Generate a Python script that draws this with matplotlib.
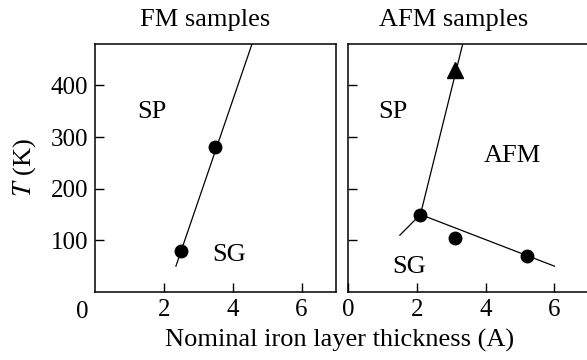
import numpy as np
import matplotlib.pyplot as plt

plt.rcParams['font.family'] = ['Liberation Serif', 'DejaVu Serif']
plt.rcParams['mathtext.fontset'] = 'stix'

# FM samples
fm_x = [2.5, 3.5]
fm_t = [80, 280]
fm_line_x = [2.35, 4.56]
fm_line_t = [50, 480]

# AFM samples
afm_x = [2.1, 3.1, 5.2]
afm_t = [150, 105, 70]
afm_tri_x = [3.1]
afm_tri_t = [430]
afm_line1_x = [1.5, 2.1, 3.33]
afm_line1_t = [110, 150, 480]
afm_line2_x = [2.1, 6.0]
afm_line2_t = [150, 50]

xticks = [2, 4, 6]
yticks = [100, 200, 300, 400]

fig = plt.figure(figsize=(5.87, 3.6), dpi=100)
ax1 = fig.add_axes([95 / 587, 1 - 292 / 360, 241 / 587, 248 / 360])
ax2 = fig.add_axes([348.3 / 587, 1 - 292 / 360, 240.5 / 587, 248 / 360])

fs = 19
tfs = 18
ax1.set_xticks(xticks)
ax2.set_xticks([0] + xticks)
for ax in (ax1, ax2):
    ax.set_xlim(0, 7)
    ax.set_ylim(0, 480)
    ax.set_yticks(yticks)
    for s in ax.spines.values():
        s.set_linewidth(1.1)
ax2.set_yticklabels([])
for ax in (ax1, ax2):
    ax.tick_params(axis='both', which='major', direction='in', length=6.5,
                   width=1.0, labelsize=tfs, pad=5)

ax1.text(-0.36, -0.035, '0', transform=ax1.get_xaxis_transform(),
         ha='center', va='top', fontsize=tfs)

ax1.plot(fm_line_x, fm_line_t, color='black', lw=0.9)
ax1.plot(fm_x, fm_t, 'o', color='black', ms=9)
ax1.text(1.66, 348, 'SP', fontsize=fs, ha='center', va='center')
ax1.text(3.9, 71, 'SG', fontsize=fs, ha='center', va='center')
ax1.set_ylabel('$T$ (K)', fontsize=fs, labelpad=9)

ax2.plot(afm_line1_x, afm_line1_t, color='black', lw=0.9)
ax2.plot(afm_line2_x, afm_line2_t, color='black', lw=0.9)
ax2.plot(afm_x, afm_t, 'o', color='black', ms=9)
ax2.plot(afm_tri_x, afm_tri_t, '^', color='black', ms=11)
ax2.text(1.3, 348, 'SP', fontsize=fs, ha='center', va='center')
ax2.text(4.78, 264, 'AFM', fontsize=fs, ha='center', va='center')
ax2.text(1.76, 48, 'SG', fontsize=fs, ha='center', va='center')

fig.text(205 / 587, 1 - 20 / 360, 'FM samples', fontsize=fs, ha='center', va='center')
fig.text(454 / 587, 1 - 20 / 360, 'AFM samples', fontsize=fs, ha='center', va='center')
fig.text(340 / 587, 1 - 340 / 360, 'Nominal iron layer thickness (A)', fontsize=fs,
         ha='center', va='center')

fig.savefig('out.png', dpi=100)
